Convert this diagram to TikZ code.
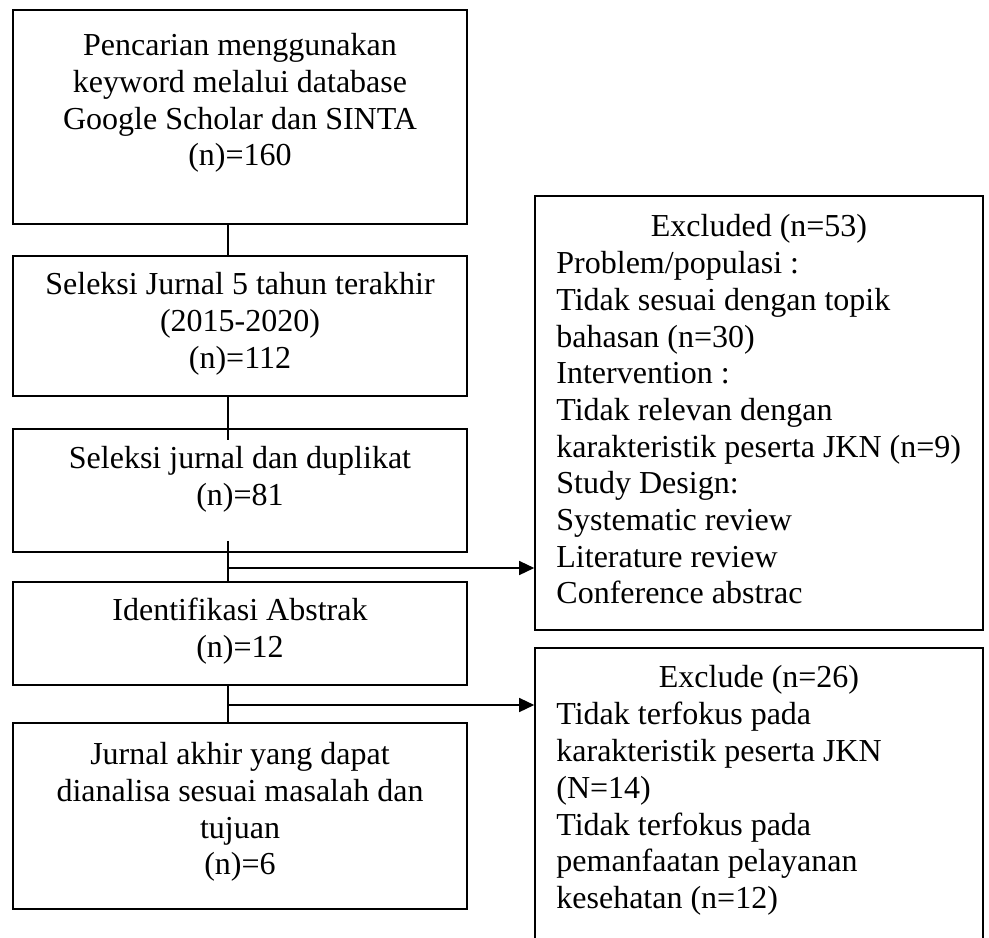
\documentclass[tikz,border=0pt]{standalone}
\usepackage{fontspec}
\setmainfont{Liberation Serif}
\usetikzlibrary{arrows.meta,calc}
\tikzset{
	kotak/.style={draw,line width=0.8pt,inner sep=0pt},
	teks/.style={inner sep=0pt,align=center,font=\fontsize{16pt}{18.35pt}\selectfont},
	panah/.style={line width=0.7pt,-{Triangle[length=7.5pt,width=7pt]}}
}
\begin{document}
\begin{tikzpicture}[x=0.5pt,y=-0.5pt]
		\useasboundingbox (0,0) rectangle (989,937);
		\clip (0,0) rectangle (989,937);
		% kotak kiri
		\node[kotak,minimum width=227pt,minimum height=107pt] (b1) at (240,117) {};
		\node[kotak,minimum width=227pt,minimum height=70pt] (b2) at (240,326) {};
		\node[kotak,minimum width=227pt,minimum height=61.5pt] (b3) at (240,490.5) {};
		\node[kotak,minimum width=227pt,minimum height=51.5pt] (b4) at (240,633.5) {};
		\node[kotak,minimum width=227pt,minimum height=93pt] (b5) at (240,816) {};
		% kotak kanan
		\node[kotak,minimum width=224pt,minimum height=217pt] (r1) at (759,413) {};
		\node[kotak,minimum width=224pt,minimum height=166pt] (r2) at (759,814) {};
		\node[teks,anchor=north] (t1) at (240,33) {Pencarian menggunakan\\keyword melalui database\\Google Scholar dan SINTA\\(n)=160};
		\node[teks,anchor=north] (t2) at (240,272) {Seleksi Jurnal 5 tahun terakhir\\(2015-2020)\\(n)=112};
		\node[teks,anchor=north] (t3) at (240,446) {Seleksi jurnal dan duplikat\\(n)=81};
		\node[teks,anchor=north] (t4) at (240,598) {Identifikasi Abstrak\\(n)=12};
		\node[teks,anchor=north] (t5) at (240,742) {Jurnal akhir yang dapat\\dianalisa sesuai masalah dan\\tujuan\\(n)=6};
		\node[teks,anchor=north] (h1) at (759,214) {Excluded (n=53)};
		\node[teks,align=left,anchor=north west] (l1) at (556,251) {Problem/populasi :\\Tidak sesuai dengan topik\\bahasan (n=30)\\Intervention :\\Tidak relevan dengan\\karakteristik peserta JKN (n=9)\\Study Design:\\Systematic review\\Literature review\\Conference abstrac};
		\node[teks,anchor=north] (h2) at (759,665) {Exclude (n=26)};
		\node[teks,align=left,anchor=north west] (l2) at (556,702) {Tidak terfokus pada\\karakteristik peserta JKN\\(N=14)\\Tidak terfokus pada\\pemanfaatan pelayanan\\kesehatan (n=12)};
		% garis penghubung
		\coordinate (sumbu) at (228,0);
		\coordinate (j1) at (228,568);
		\coordinate (j2) at (228,705);
		\draw[line width=0.7pt] (b1.south -| sumbu) -- (b2.north -| sumbu);
		\draw[line width=0.7pt] (b2.south -| sumbu) -- ($(b3.north -| sumbu)+(0,12)$);
		\draw[line width=0.7pt] ($(b3.south -| sumbu)+(0,-12)$) -- (b4.north -| sumbu);
		\draw[line width=0.7pt] (b4.south -| sumbu) -- (b5.north -| sumbu);
		\draw[panah] (j1) -- (j1 -| r1.west);
		\draw[panah] (j2) -- (j2 -| r2.west);
	\end{tikzpicture}
\end{document}
